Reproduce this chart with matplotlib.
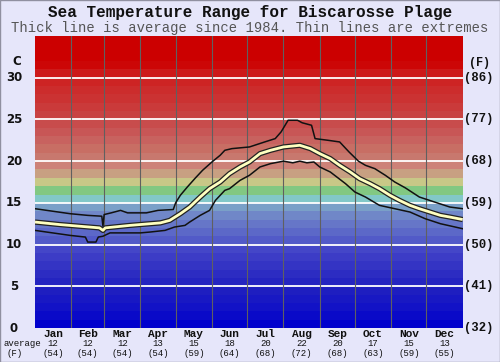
import matplotlib
matplotlib.use("Agg")
import matplotlib.pyplot as plt
import matplotlib.transforms as mtransforms
from matplotlib.patches import Rectangle

# ---------------- data ----------------
months = ["Jan", "Feb", "Mar", "Apr", "May", "Jun", "Jul", "Aug", "Sep", "Oct", "Nov", "Dec"]
month_avg_c = [12, 12, 12, 13, 15, 18, 20, 22, 20, 17, 15, 13]
month_avg_f = [54, 54, 54, 54, 59, 64, 68, 72, 68, 63, 59, 55]
month_start_days = [0, 31, 59, 90, 120, 151, 181, 212, 243, 273, 304, 334, 365]
c_ticks = [0, 5, 10, 15, 20, 25, 30]
f_ticks = ["(32)", "(41)", "(50)", "(59)", "(68)", "(77)", "(86)"]

avg_days = [0, 21, 38, 55, 58, 60, 81, 107, 115, 124, 132, 141, 149, 158, 166, 175,
            183, 192, 201, 212, 226, 235, 243, 252, 260, 269, 277, 286, 294, 303,
            311, 320, 328, 337, 346, 354, 365]
avg_vals = [12.7, 12.4, 12.2, 12.0, 11.7, 12.0, 12.3, 12.6, 12.9, 13.7, 14.5, 15.7,
            16.7, 17.5, 18.5, 19.3, 19.9, 20.9, 21.3, 21.7, 21.9, 21.5, 20.9, 20.3,
            19.5, 18.7, 17.9, 17.3, 16.7, 15.9, 15.3, 14.7, 14.3, 13.9, 13.5, 13.3, 13.0]

max_days = [0, 15, 30, 45, 57, 58, 59, 65, 73, 79, 95, 105, 118, 120, 124, 130,
            137, 143, 151, 158, 162, 168, 183, 196, 205, 210, 216, 224, 228, 236,
            239, 250, 260, 268, 276, 282, 290, 299, 307, 316, 328, 341, 354, 365]
max_vals = [14.3, 14.0, 13.7, 13.5, 13.4, 12.2, 13.6, 13.8, 14.1, 13.8, 13.8, 14.1,
            14.2, 15.0, 15.9, 16.9, 18.0, 18.9, 19.9, 20.7, 21.3, 21.5, 21.7, 22.3,
            22.7, 23.5, 24.9, 24.9, 24.6, 24.3, 22.7, 22.5, 22.3, 21.1, 20.0, 19.5,
            19.1, 18.3, 17.5, 16.8, 15.7, 15.1, 14.5, 14.3]

min_days = [0, 15, 30, 43, 45, 52, 54, 58, 64, 90, 98, 111, 119, 128, 132, 141,
            149, 154, 162, 166, 175, 183, 192, 201, 212, 220, 226, 232, 238, 243,
            252, 265, 273, 282, 294, 307, 320, 333, 346, 365]
min_vals = [11.7, 11.4, 11.1, 10.9, 10.3, 10.3, 10.9, 11.0, 11.4, 11.4, 11.5, 11.7,
            12.1, 12.3, 12.7, 13.5, 14.1, 15.3, 16.5, 16.7, 17.7, 18.3, 19.3, 19.7,
            20.0, 19.8, 20.0, 19.8, 19.9, 19.3, 18.7, 17.3, 16.3, 15.7, 14.7, 14.3,
            13.9, 13.1, 12.5, 11.9]

# band colours, one per degree C from 0 upward (style)
band_colors = [
    (0, 0, 205), (10, 10, 200), (18, 18, 198), (24, 24, 195), (30, 30, 192),
    (36, 36, 192), (44, 44, 194), (52, 52, 196), (60, 60, 198), (68, 70, 200),
    (82, 90, 200), (92, 104, 200), (102, 118, 200), (112, 135, 200), (122, 160, 200),
    (130, 200, 200), (130, 200, 130), (200, 200, 135), (200, 160, 130), (205, 130, 120),
    (200, 120, 110), (200, 110, 100), (200, 98, 95), (200, 86, 86), (200, 76, 76),
    (200, 66, 66), (202, 58, 58), (203, 50, 50), (204, 44, 44), (205, 36, 36),
    (205, 26, 26), (204, 6, 6), (204, 0, 0), (204, 0, 0), (204, 0, 0),
]

# ---------------- figure ----------------
bg = "#e6e6fa"
fig = plt.figure(figsize=(5.0, 3.62), dpi=100, facecolor=bg)
ax = fig.add_axes([35 / 500, 1 - 328 / 362, 427.7 / 500, 292 / 362])
ax.set_xlim(0, 365)
ax.set_ylim(0, 35)
for s in ax.spines.values():
    s.set_visible(False)
ax.set_xticks([])
ax.set_yticks([])

for i, c in enumerate(band_colors):
    ax.axhspan(i, i + 1, color=tuple(v / 255 for v in c), lw=0, zorder=0)

for t in c_ticks[1:]:
    ax.axhline(t, color="white", lw=1.3, zorder=1)
for d in month_start_days[1:-1]:
    ax.axvline(d, color="#606060", lw=0.8, zorder=1)

ax.plot(max_days, max_vals, color="#111111", lw=1.1, zorder=3)
ax.plot(min_days, min_vals, color="#111111", lw=1.1, zorder=3)
ax.plot(avg_days, avg_vals, color="#222222", lw=3.8, zorder=4, solid_capstyle="butt")
ax.plot(avg_days, avg_vals, color="#ffffc0", lw=2.0, zorder=5, solid_capstyle="butt")

# ---------------- text ----------------
fig.text(0.5, 1 - 13 / 362, "Sea Temperature Range for Biscarosse Plage",
         ha="center", va="center", family="Liberation Mono", weight="bold",
         fontsize=11.5, color="#111111")
fig.text(0.5, 1 - 28 / 362, "Thick line is average since 1984. Thin lines are extremes",
         ha="center", va="center", family="Liberation Mono", fontsize=10,
         color="#555555")

ty = mtransforms.blended_transform_factory(ax.transAxes, ax.transData)
for t in c_ticks:
    ax.text(-0.049, t, str(t), transform=ty, ha="center", va="center",
            family="DejaVu Sans", weight="bold", fontsize=8.5, color="#111111",
            clip_on=False)
for t, lab in zip(c_ticks, f_ticks):
    ax.text(1.038, t, lab, transform=ty, ha="center", va="center",
            family="Liberation Mono", weight="bold", fontsize=8.8, color="#111111",
            clip_on=False)
ax.text(-0.042, 32.0, "C", transform=ty, ha="center", va="center",
        family="DejaVu Sans", weight="bold", fontsize=8.5, color="#111111", clip_on=False)
ax.text(1.040, 31.8, "(F)", transform=ty, ha="center", va="center",
        family="Liberation Mono", weight="bold", fontsize=8.5, color="#111111", clip_on=False)

tx = mtransforms.blended_transform_factory(ax.transData, fig.transFigure)
for i, m in enumerate(months):
    mid = (month_start_days[i] + month_start_days[i + 1]) / 2
    ax.text(mid, 1 - 334 / 362, m, transform=tx, ha="center", va="center",
            family="Liberation Mono", weight="bold", fontsize=8, color="#111111",
            clip_on=False)
    ax.text(mid, 1 - 343.5 / 362, str(month_avg_c[i]), transform=tx, ha="center",
            va="center", family="Liberation Mono", fontsize=6.5, color="#111111",
            clip_on=False)
    ax.text(mid, 1 - 353 / 362, "(%d)" % month_avg_f[i], transform=tx, ha="center",
            va="center", family="Liberation Mono", fontsize=6.5, color="#111111",
            clip_on=False)
fig.text(22 / 500, 1 - 343.5 / 362, "average", ha="center", va="center",
         family="Liberation Mono", fontsize=6.5, color="#111111")
fig.text(15 / 500, 1 - 353 / 362, "(F)", ha="center", va="center",
         family="Liberation Mono", fontsize=6.5, color="#111111")

fig.patches.append(Rectangle((0, 0), 1, 1, transform=fig.transFigure, fill=False,
                             edgecolor="#9090a0", lw=1.0))

fig.savefig("out.png", dpi=100, facecolor=bg)
